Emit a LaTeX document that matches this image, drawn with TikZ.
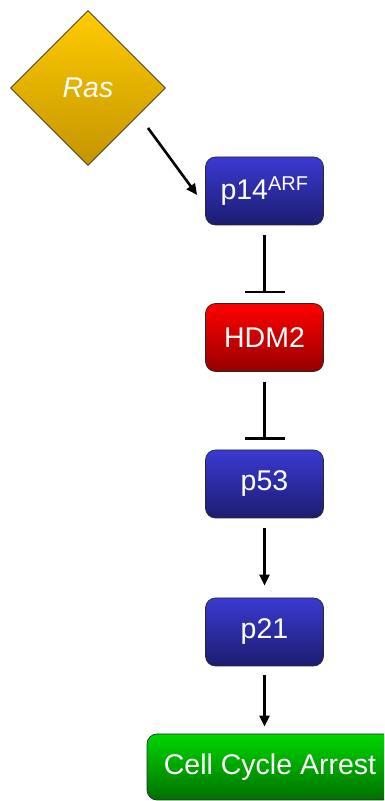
\documentclass[tikz,border=0pt]{standalone}
\usepackage{fontspec}
\setmainfont{Liberation Sans}
\usetikzlibrary{shapes.geometric,arrows.meta}
\definecolor{bluetop}{RGB}{58,58,210}
\definecolor{bluebot}{RGB}{28,28,112}
\definecolor{redtop}{RGB}{255,0,0}
\definecolor{redbot}{RGB}{150,0,0}
\definecolor{greentop}{RGB}{0,214,0}
\definecolor{greenbot}{RGB}{0,112,0}
\definecolor{yeltop}{RGB}{255,204,0}
\definecolor{yelbot}{RGB}{196,148,0}
\definecolor{edgegray}{RGB}{40,40,40}
\begin{document}
\begin{tikzpicture}[x=1pt,y=1pt,
  box/.style={rectangle, rounded corners=10pt, draw=edgegray, line width=0.7pt,
    minimum width=118pt, minimum height=68pt, inner sep=0pt, text=white,
    font=\fontsize{28.5}{30}\selectfont},
  bluebox/.style={box, top color=bluetop, bottom color=bluebot},
  redbox/.style={box, top color=redtop, bottom color=redbot},
  greenbox/.style={box, top color=greentop, bottom color=greenbot},
  act/.style={line width=2.6pt, -{Triangle[length=11pt,width=10pt]}},
  inh/.style={line width=2.6pt, -{Bar[width=40pt]}}
]
\clip (0,0) rectangle (384,801);
\node[diamond, draw=edgegray, line width=0.7pt, top color=yeltop, bottom color=yelbot,
  minimum width=155pt, minimum height=155pt, inner sep=0pt, text=white,
  font=\fontsize{28.5}{30}\selectfont\itshape] (ras) at (88,713) {Ras};
\node[bluebox] (p14) at (264.5,610) {p14\textsuperscript{ARF}};
\node[redbox] (hdm2) at (264.5,463.5) {HDM2};
\node[bluebox] (p53) at (264.5,317) {p53};
\node[bluebox] (p21) at (264.5,169) {p21};
\node[greenbox, minimum width=246pt, minimum height=66pt] (cca) at (270,34) {Cell Cycle Arrest};
\draw[act] ([xshift=60pt,yshift=-40pt]ras.center) -- ([xshift=-8pt,yshift=-4pt]p14.west);
\draw[inh, shorten <=10pt, shorten >=10pt] (p14.south) -- (hdm2.north);
\draw[inh, shorten <=10pt, shorten >=10pt] (hdm2.south) -- (p53.north);
\draw[act, shorten <=10pt, shorten >=12pt] (p53.south) -- (p21.north);
\draw[act, shorten <=9pt, shorten >=7pt] (p21.south) -- (cca.north -| p21.south);
\end{tikzpicture}
\end{document}
